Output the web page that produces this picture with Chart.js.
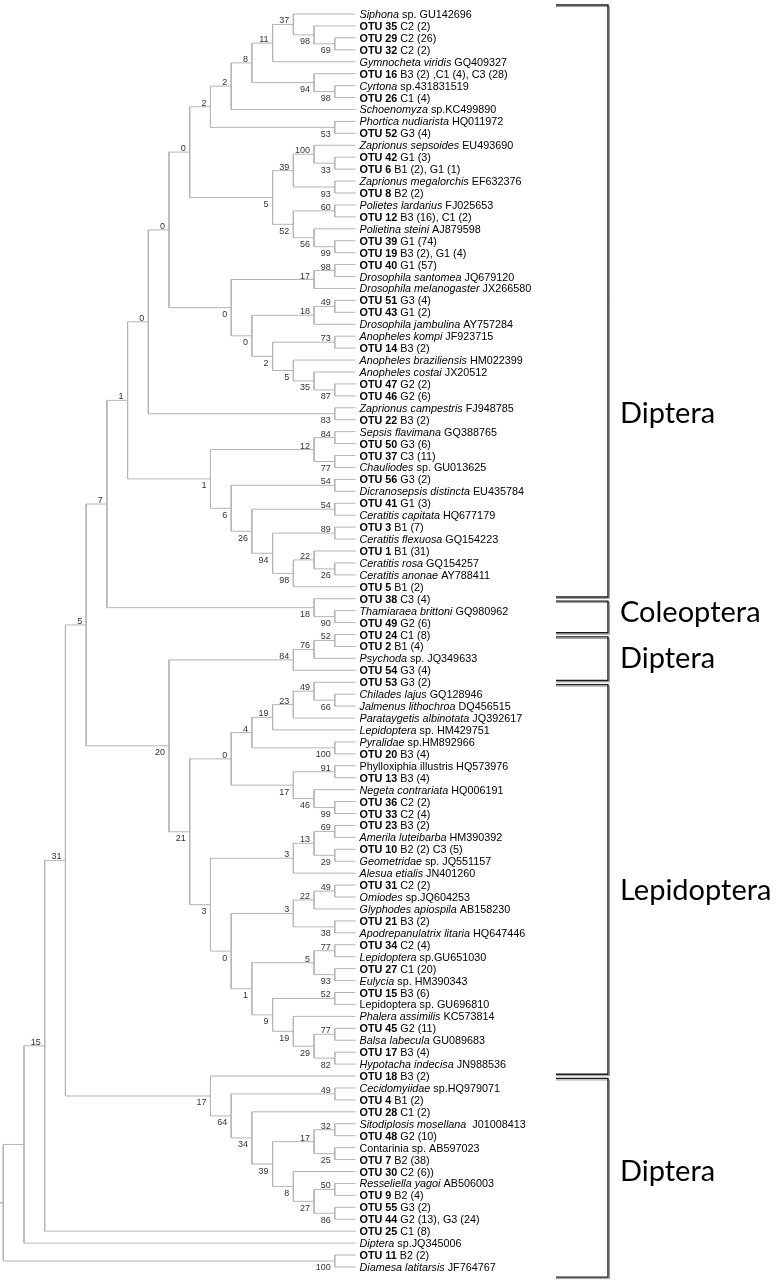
<!DOCTYPE html>
<html>
<head>
<meta charset="utf-8">
<script src="https://cdn.jsdelivr.net/npm/chart.js@4.4.0/dist/chart.umd.min.js"></script>
<style>
  html, body { margin: 0; padding: 0; background: #fff; }
</style>
</head>
<body>
<canvas id="tree" width="779" height="1285"></canvas>
<script>
// leaf names top to bottom, _italic_ and *bold* parts
const leafNames = [
  "_Siphona_ sp. GU142696", "*OTU 35* C2 (2)", "*OTU 29* C2 (26)", "*OTU 32* C2 (2)",
  "_Gymnocheta viridis_ GQ409327", "*OTU 16* B3 (2) ,C1 (4), C3 (28)", "_Cyrtona_ sp.431831519",
  "*OTU 26* C1 (4)", "_Schoenomyza_ sp.KC499890", "_Phortica nudiarista_ HQ011972", "*OTU 52* G3 (4)",
  "_Zaprionus sepsoides_ EU493690", "*OTU 42* G1 (3)", "*OTU 6* B1 (2), G1 (1)",
  "_Zaprionus megalorchis_ EF632376", "*OTU 8* B2 (2)", "_Polietes lardarius_ FJ025653",
  "*OTU 12* B3 (16), C1 (2)", "_Polietina steini_ AJ879598", "*OTU 39* G1 (74)",
  "*OTU 19* B3 (2), G1 (4)", "*OTU 40* G1 (57)", "_Drosophila santomea_ JQ679120",
  "_Drosophila melanogaster_ JX266580", "*OTU 51* G3 (4)", "*OTU 43* G1 (2)",
  "_Drosophila jambulina_ AY757284", "_Anopheles kompi_ JF923715", "*OTU 14* B3 (2)",
  "_Anopheles braziliensis_ HM022399", "_Anopheles costai_ JX20512", "*OTU 47* G2 (2)",
  "*OTU 46* G2 (6)", "_Zaprionus campestris_ FJ948785", "*OTU 22* B3 (2)",
  "_Sepsis flavimana_ GQ388765", "*OTU 50* G3 (6)", "*OTU 37* C3 (11)", "_Chauliodes_ sp. GU013625",
  "*OTU 56* G3 (2)", "_Dicranosepsis distincta_ EU435784", "*OTU 41* G1 (3)",
  "_Ceratitis capitata_ HQ677179", "*OTU 3* B1 (7)", "_Ceratitis flexuosa_ GQ154223",
  "*OTU 1* B1 (31)", "_Ceratitis rosa_ GQ154257", "_Ceratitis anonae_ AY788411", "*OTU 5* B1 (2)",
  "*OTU 38* C3 (4)", "_Thamiaraea brittoni_ GQ980962", "*OTU 49* G2 (6)",
  "*OTU 24* C1 (8)", "*OTU 2* B1 (4)", "_Psychoda_ sp. JQ349633", "*OTU 54* G3 (4)",
  "*OTU 53* G3 (2)", "_Chilades lajus_ GQ128946", "_Jalmenus lithochroa_ DQ456515",
  "_Parataygetis albinotata_ JQ392617", "_Lepidoptera_ sp. HM429751", "_Pyralidae_ sp.HM892966",
  "*OTU 20* B3 (4)", "Phylloxiphia illustris HQ573976", "*OTU 13* B3 (4)",
  "_Negeta contrariata_ HQ006191", "*OTU 36* C2 (2)", "*OTU 33* C2 (4)", "*OTU 23* B3 (2)",
  "_Amerila luteibarba_ HM390392", "*OTU 10* B2 (2) C3 (5)", "_Geometridae_ sp. JQ551157",
  "_Alesua etialis_ JN401260", "*OTU 31* C2 (2)", "_Omiodes_ sp.JQ604253",
  "_Glyphodes apiospila_ AB158230", "*OTU 21* B3 (2)", "_Apodrepanulatrix litaria_ HQ647446",
  "*OTU 34* C2 (4)", "_Lepidoptera_ sp.GU651030", "*OTU 27* C1 (20)", "_Eulycia_ sp. HM390343",
  "*OTU 15* B3 (6)", "Lepidoptera sp. GU696810", "_Phalera assimilis_ KC573814",
  "*OTU 45* G2 (11)", "_Balsa labecula_ GU089683", "*OTU 17* B3 (4)",
  "_Hypotacha indecisa_ JN988536", "*OTU 18* B3 (2)", "_Cecidomyiidae_ sp.HQ979071",
  "*OTU 4* B1 (2)", "*OTU 28* C1 (2)", "_Sitodiplosis mosellana_  J01008413", "*OTU 48* G2 (10)",
  "Contarinia sp. AB597023", "*OTU 7* B2 (38)", "*OTU 30* C2 (6))", "_Resseliella yagoi_ AB506003",
  "*OTU 9* B2 (4)", "*OTU 55* G3 (2)", "*OTU 44* G2 (13), G3 (24)", "*OTU 25* C1 (8)",
  "_Diptera_ sp.JQ345006", "*OTU 11* B2 (2)", "_Diamesa latitarsis_ JF764767"
];

// topology: leaf indices, bootstrap after each ")"
const upperDiptera = "(((((((0,(1,(2,3)69)98)37,4)11,(5,(6,7)98)94)8,8)2,(9,10)53)2," +
  "(((11,(12,13)33)100,(14,15)93)39,((16,17)60,(18,(19,20)99)56)52)5)0," +
  "(((21,22)98,23)17,(((24,25)49,26)18,((27,28)73,(29,(30,(31,32)87)35)5)2)0)0)0";
const ceratitisClade = "(((35,36)84,(37,38)77)12,((39,40)54,((41,42)54,((43,44)89,((45,(46,47)26)22,48)98)94)26)6)1";
const lepidopteraA = "(((((56,(57,58)66)49,59)23,60)19,(61,62)100)4,((63,64)91,(65,(66,67)99)46)17)0";
const lepidopteraB = "((((68,69)69,(70,71)29)13,72)3,((((73,74)49,75)22,(76,77)38)3," +
  "(((78,79)77,(80,81)93)5,((82,83)52,(84,((85,86)77,(87,88)82)29)19)9)1)0)3";
const lowerDiptera = "(89,((90,91)49,(92,(((93,94)32,(95,96)25)17,(97,((98,99)50,(100,101)86)27)8)39)34)64)17";
const topology = "(((((((((" + upperDiptera + ",(33,34)83)0," + ceratitisClade + ")1,(49,(50,51)90)18)7," +
  "((((52,53)52,54)76,55)84,(" + lepidopteraA + "," + lepidopteraB + ")21)20)5," +
  lowerDiptera + ")31,102)15,103),(104,105)100)";

const groupNames = ["Diptera", "Coleoptera", "Diptera", "Lepidoptera", "Diptera"];
const groupFirst = [0, 49, 52, 56, 89];
const groupLast = [48, 51, 55, 88, 105];
const groupLabelRow = [33.5, 50.2, 54, 73.5, 97];

// layout constants (pixels)
const W = 779, H = 1285;
const leafTopPx = 14, leafStepPx = 11.933;
const leafEndPx = 355.5, levelPx = 20.72;

function parseNewick(s) {
  let i = 0;
  function readNum() {
    let n = "";
    while (i < s.length && /[0-9]/.test(s[i])) n += s[i++];
    return n;
  }
  function node() {
    if (s[i] === "(") {
      i++;
      const kids = [node()];
      while (s[i] === ",") { i++; kids.push(node()); }
      i++;
      const sup = readNum();
      return { kids, support: sup === "" ? null : sup };
    }
    return { leaf: +readNum() };
  }
  return node();
}

function place(n) {
  if (!n.kids) { n.h = 0; n.y = n.leaf; return; }
  n.kids.forEach(place);
  n.h = 1 + Math.max(...n.kids.map(k => k.h));
  n.y = (n.kids[0].y + n.kids[n.kids.length - 1].y) / 2;
}

const root = parseNewick(topology);
place(root);

const segments = [];
const supports = [];
(function walk(n) {
  if (!n.kids) return;
  const a = n.kids[0], b = n.kids[n.kids.length - 1];
  segments.push({x: a.h, y: a.y}, {x: n.h, y: a.y}, {x: n.h, y: b.y}, {x: b.h, y: b.y}, {x: b.h, y: null});
  n.kids.slice(1, -1).forEach(k => segments.push({x: n.h, y: k.y}, {x: k.h, y: k.y}, {x: k.h, y: null}));
  n.kids.forEach((k, idx) => {
    if (k.kids && k.support !== null) supports.push({h: k.h, y: k.y, text: k.support, below: idx > 0});
    walk(k);
  });
})(root);

const leafFont = '10.8px "Liberation Sans", Arial, sans-serif';

function drawRich(ctx, str, x, y) {
  const parts = str.match(/\*[^*]+\*|_[^_]+_|[^*_]+/g);
  parts.forEach(p => {
    let style = "";
    let t = p;
    if (p[0] === "*") { style = "bold "; t = p.slice(1, -1); }
    else if (p[0] === "_") { style = "italic "; t = p.slice(1, -1); }
    ctx.font = style + leafFont;
    ctx.fillText(t, x, y);
    x += ctx.measureText(t).width;
  });
}

const treeLabels = {
  id: "treeLabels",
  afterDatasetsDraw(chart) {
    const {ctx, scales: {x, y}} = chart;
    ctx.save();
    ctx.textBaseline = "alphabetic";

    // leaf names
    ctx.fillStyle = "#000";
    ctx.textAlign = "left";
    const labelX = x.getPixelForValue(0) + 4;
    leafNames.forEach((name, i) => drawRich(ctx, name, labelX, y.getPixelForValue(i) + 4));

    // bootstrap values
    ctx.font = '9px "Liberation Sans", Arial, sans-serif';
    ctx.fillStyle = "#333";
    ctx.textAlign = "right";
    supports.forEach(s => {
      const px = x.getPixelForValue(s.h) - 4;
      const py = y.getPixelForValue(s.y);
      ctx.fillText(s.text, px, s.below ? py + 9.5 : py - 1);
    });

    // order brackets
    const bx0 = 556, bx1 = 608;
    groupNames.forEach((g, k) => {
      const top = y.getPixelForValue(groupFirst[k] - (k === 0 ? 0.75 : -0.2));
      const bot = y.getPixelForValue(groupLast[k] + 0.85);
      [["#9a9a9a", 1, 1.5], ["#1a1a1a", 1.4, 0]].forEach(([col, lw, off]) => {
        ctx.strokeStyle = col;
        ctx.lineWidth = lw;
        ctx.beginPath();
        ctx.moveTo(bx0, top + off);
        ctx.lineTo(bx1 + off, top + off);
        ctx.lineTo(bx1 + off, bot + off);
        ctx.lineTo(bx0, bot + off);
        ctx.stroke();
      });
      ctx.fillStyle = "#000";
      ctx.textAlign = "left";
      ctx.textBaseline = "middle";
      ctx.font = '29px Lato, "Open Sans", sans-serif';
      ctx.fillText(g, 620, y.getPixelForValue(groupLabelRow[k]));
      ctx.textBaseline = "alphabetic";
    });
    ctx.restore();
  }
};

const xMax = leafEndPx / levelPx;
const xMin = xMax - W / levelPx;
const yMin = -leafTopPx / leafStepPx;
const yMax = yMin + H / leafStepPx;

new Chart(document.getElementById("tree"), {
  type: "line",
  data: {
    datasets: [{
      data: segments,
      borderColor: "#b5b5b5",
      borderWidth: 1,
      pointRadius: 0,
      tension: 0,
      fill: false,
      spanGaps: false
    }]
  },
  options: {
    responsive: false,
    devicePixelRatio: 1,
    animation: false,
    events: [],
    layout: { padding: 0 },
    plugins: { legend: { display: false }, tooltip: { enabled: false } },
    scales: {
      x: { type: "linear", reverse: true, min: xMin, max: xMax, display: false },
      y: { type: "linear", reverse: true, min: yMin, max: yMax, display: false }
    }
  },
  plugins: [treeLabels]
});
</script>
</body>
</html>
